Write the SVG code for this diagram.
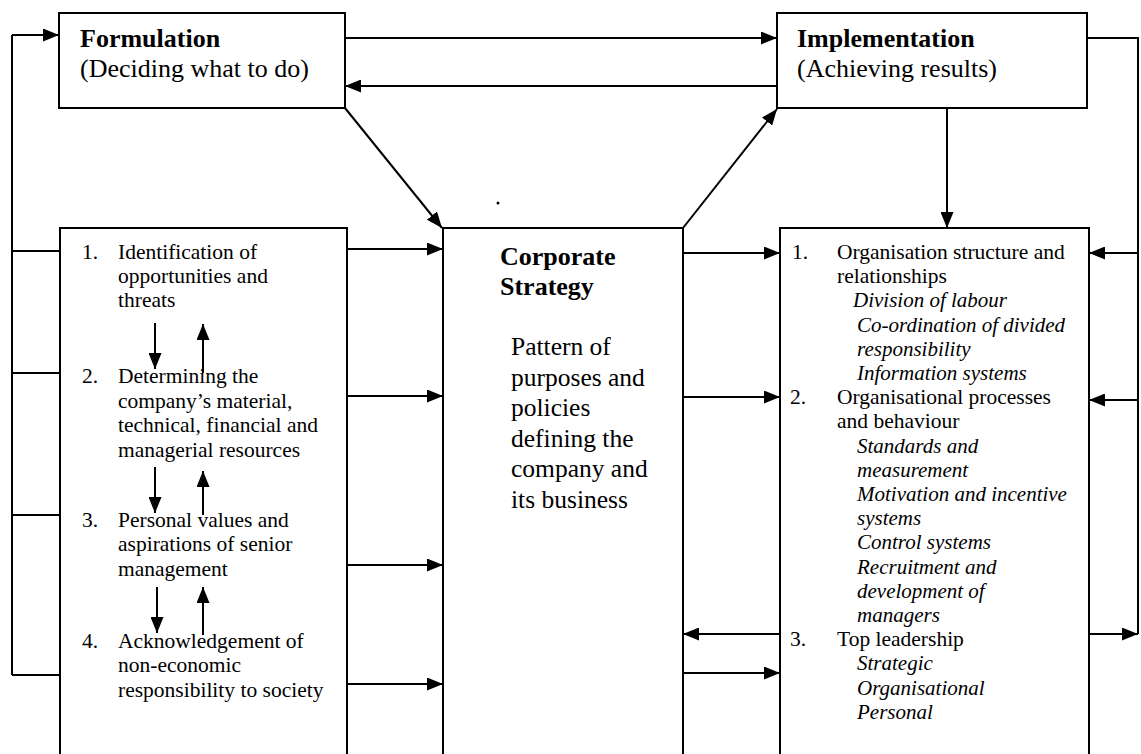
<svg xmlns="http://www.w3.org/2000/svg" width="1141" height="754" viewBox="0 0 1141 754">
  <style>
    .box { fill: #ffffff; stroke: #000000; stroke-width: 2; }
    .ln { fill: none; stroke: #000000; stroke-width: 2; }
    .arr { fill: none; stroke: #000000; stroke-width: 2; marker-end: url(#head); }
    text { font-family: "Liberation Serif", "Times New Roman", serif; fill: #000000; }
    .hd { font-size: 26px; font-weight: bold; }
    .sub { font-size: 26px; }
    .cs { font-size: 25.5px; }
    .li { font-size: 21.5px; }
    .it { font-size: 21px; font-style: italic; }
  </style>
  <defs>
    <marker id="head" markerUnits="userSpaceOnUse" markerWidth="17" markerHeight="13" refX="16" refY="6.5" orient="auto">
      <path d="M0,0 L16,6.5 L0,13 z" fill="#000000"/>
    </marker>
  </defs>
  <rect width="1141" height="754" fill="#ffffff"/>

  <!-- Formulation -->
  <g id="formulation">
    <rect class="box" x="59" y="13" width="286" height="95"/>
    <text class="hd" x="80" y="47">Formulation</text>
    <text class="sub" x="80" y="77">(Deciding what to do)</text>
  </g>

  <!-- Implementation -->
  <g id="implementation">
    <rect class="box" x="777" y="13" width="310" height="95"/>
    <text class="hd" x="797" y="47">Implementation</text>
    <text class="sub" x="797" y="77">(Achieving results)</text>
  </g>

  <!-- formulation factors -->
  <g id="formulation-factors">
    <rect class="box" x="60" y="228" width="287" height="540"/>
    <g class="li">
      <text x="82" y="259">1.</text>
      <text x="118" y="259">Identification of</text>
      <text x="118" y="283">opportunities and</text>
      <text x="118" y="307">threats</text>
      <text x="82" y="383">2.</text>
      <text x="118" y="383">Determining the</text>
      <text x="118" y="408">company’s material,</text>
      <text x="118" y="432">technical, financial and</text>
      <text x="118" y="457">managerial resources</text>
      <text x="82" y="527">3.</text>
      <text x="118" y="527">Personal values and</text>
      <text x="118" y="551">aspirations of senior</text>
      <text x="118" y="576">management</text>
      <text x="82" y="648">4.</text>
      <text x="118" y="648">Acknowledgement of</text>
      <text x="118" y="672">non-economic</text>
      <text x="118" y="697">responsibility to society</text>
    </g>
  </g>

  <!-- Corporate strategy -->
  <g id="corporate-strategy">
    <rect class="box" x="443" y="228" width="240" height="540"/>
    <text class="hd" x="500" y="265">Corporate</text>
    <text class="hd" x="500" y="295">Strategy</text>
    <g class="cs">
      <text x="511" y="355">Pattern of</text>
      <text x="511" y="385.5">purposes and</text>
      <text x="511" y="416">policies</text>
      <text x="511" y="446.5">defining the</text>
      <text x="511" y="477">company and</text>
      <text x="511" y="507.5">its business</text>
    </g>
    <circle cx="498" cy="203" r="1.5" fill="#000000"/>
  </g>

  <!-- implementation factors -->
  <g id="implementation-factors">
    <rect class="box" x="780" y="228" width="309" height="540"/>
    <text class="li" x="792" y="259">1.</text>
    <text class="li" x="837" y="259">Organisation structure and</text>
    <text class="li" x="837" y="283.2">relationships</text>
    <text class="it" x="853" y="307.4">Division of labour</text>
    <text class="it" x="857" y="331.6">Co-ordination of divided</text>
    <text class="it" x="857" y="355.8">responsibility</text>
    <text class="it" x="857" y="380">Information systems</text>
    <text class="li" x="790" y="404.2">2.</text>
    <text class="li" x="837" y="404.2">Organisational processes</text>
    <text class="li" x="837" y="428.4">and behaviour</text>
    <text class="it" x="857" y="452.6">Standards and</text>
    <text class="it" x="857" y="476.8">measurement</text>
    <text class="it" x="857" y="501">Motivation and incentive</text>
    <text class="it" x="857" y="525.2">systems</text>
    <text class="it" x="857" y="549.4">Control systems</text>
    <text class="it" x="857" y="573.6">Recruitment and</text>
    <text class="it" x="857" y="597.8">development of</text>
    <text class="it" x="857" y="622">managers</text>
    <text class="li" x="790" y="646.2">3.</text>
    <text class="li" x="837" y="646.2">Top leadership</text>
    <text class="it" x="857" y="670.4">Strategic</text>
    <text class="it" x="857" y="694.6">Organisational</text>
    <text class="it" x="857" y="718.8">Personal</text>
  </g>

  <!-- connectors -->
  <g id="connectors">
    <!-- left feedback loop -->
    <path class="ln" d="M12,675 L12,35"/>
    <line class="arr" x1="12" y1="35" x2="59" y2="35"/>
    <line class="ln" x1="12" y1="251" x2="60" y2="251"/>
    <line class="ln" x1="12" y1="373" x2="60" y2="373"/>
    <line class="ln" x1="12" y1="515" x2="60" y2="515"/>
    <line class="ln" x1="12" y1="675" x2="60" y2="675"/>

    <!-- between the top boxes -->
    <line class="arr" x1="345" y1="38" x2="777" y2="38"/>
    <line class="arr" x1="777" y1="86" x2="345" y2="86"/>

    <!-- diagonals through the strategy box -->
    <line class="arr" x1="345" y1="108" x2="442" y2="228"/>
    <line class="arr" x1="683" y1="228" x2="777" y2="109"/>

    <!-- implementation down to its list -->
    <line class="arr" x1="947" y1="108" x2="947" y2="228"/>

    <!-- right feedback loop -->
    <path class="ln" d="M1087,38 L1138,38 L1138,634"/>
    <line class="arr" x1="1138" y1="253" x2="1089" y2="253"/>
    <line class="arr" x1="1138" y1="400" x2="1089" y2="400"/>
    <line class="arr" x1="1089" y1="634" x2="1138" y2="634"/>

    <!-- formulation factors into strategy -->
    <line class="arr" x1="347" y1="249" x2="443" y2="249"/>
    <line class="arr" x1="347" y1="396" x2="443" y2="396"/>
    <line class="arr" x1="347" y1="565" x2="443" y2="565"/>
    <line class="arr" x1="347" y1="684" x2="443" y2="684"/>

    <!-- strategy and implementation factors -->
    <line class="arr" x1="683" y1="253" x2="780" y2="253"/>
    <line class="arr" x1="683" y1="397" x2="780" y2="397"/>
    <line class="arr" x1="780" y1="634" x2="683" y2="634"/>
    <line class="arr" x1="683" y1="673" x2="780" y2="673"/>

    <!-- links between formulation factors -->
    <line class="arr" x1="155" y1="323" x2="155" y2="369"/>
    <line class="arr" x1="203" y1="373" x2="203" y2="324"/>
    <line class="arr" x1="155" y1="467" x2="155" y2="513"/>
    <line class="arr" x1="203" y1="515" x2="203" y2="471"/>
    <line class="arr" x1="157" y1="587" x2="157" y2="633"/>
    <line class="arr" x1="203" y1="635" x2="203" y2="587"/>
  </g>
</svg>
